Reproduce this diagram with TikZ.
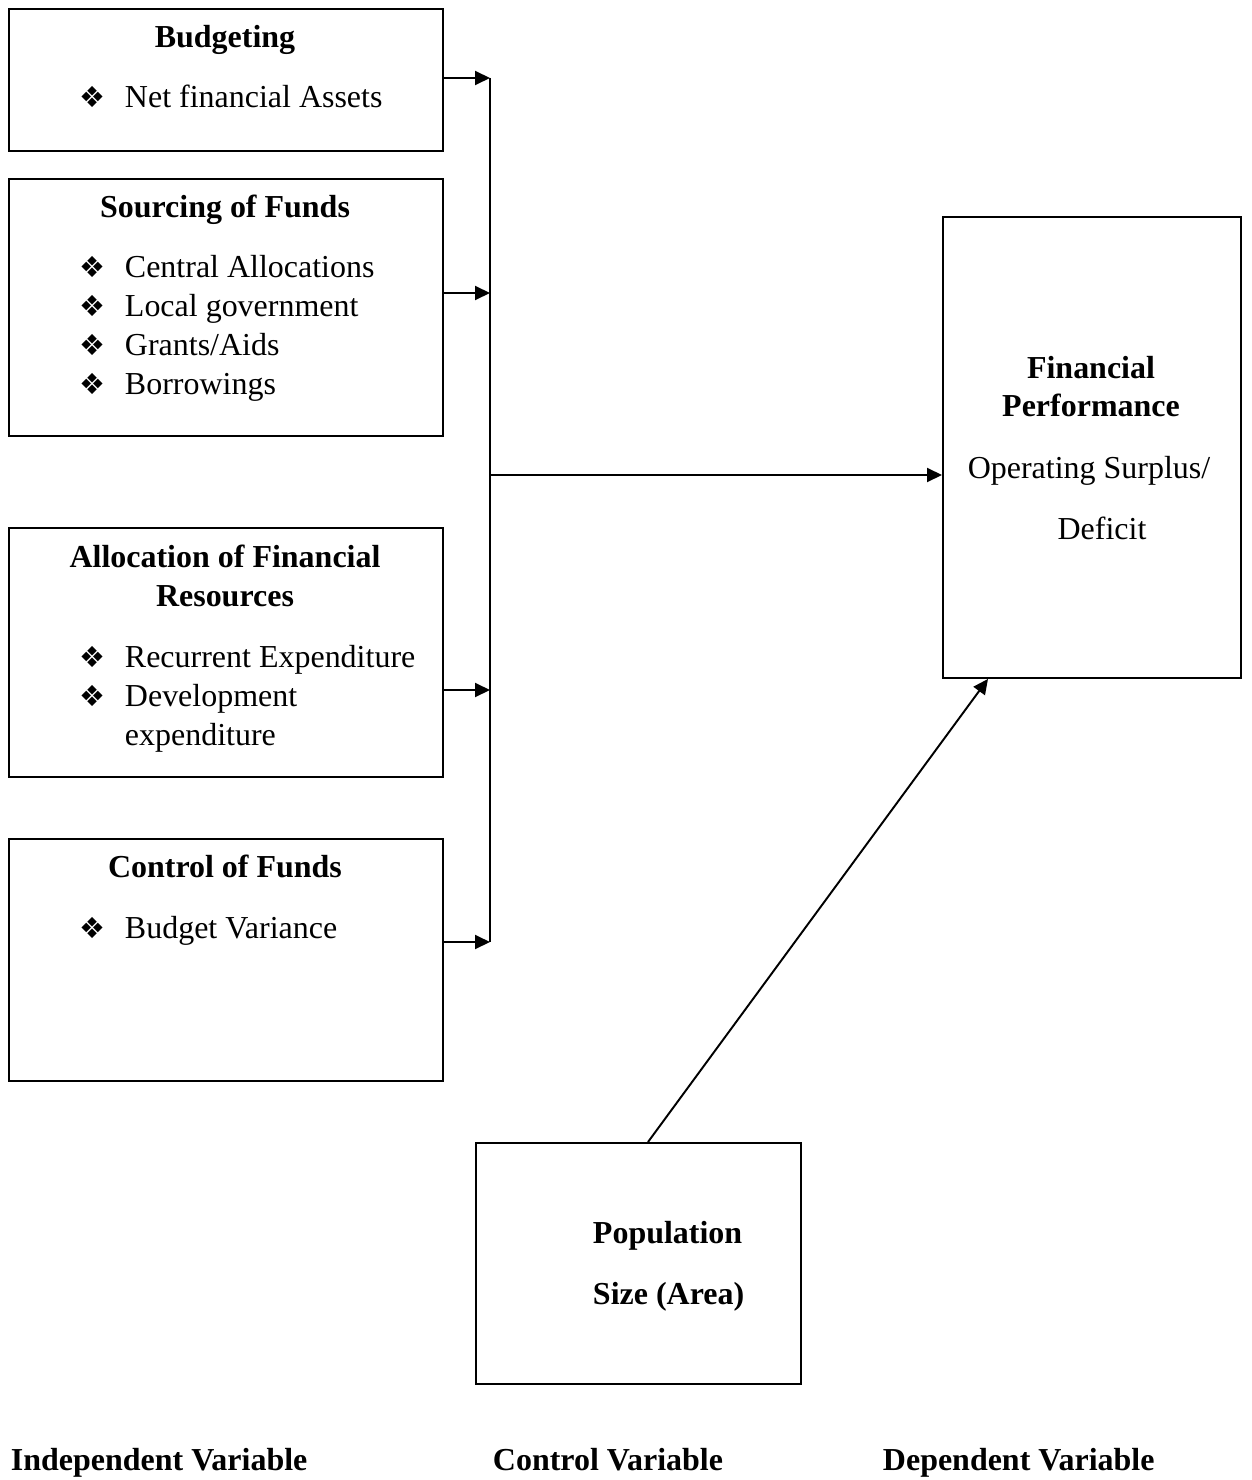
\documentclass[tikz,border=0pt]{standalone}
\usepackage{fontspec}
\setmainfont{Liberation Serif}
\newfontfamily\symfont{DejaVu Sans}
\usetikzlibrary{arrows.meta}
\newcommand{\diam}{{\symfont\char"2756}}

\begin{document}
\begin{tikzpicture}[x=0.02cm, y=-0.02cm, line width=1.1pt,
  font=\fontsize{18.2}{22}\selectfont, inner sep=0pt,
  box/.style={draw, rectangle, anchor=north west, inner sep=0pt},
  head/.style={font=\fontsize{18.2}{22}\selectfont\bfseries, anchor=base},
  item/.style={anchor=base west},
  bul/.style={anchor=base, font=\fontsize{16.5}{20}\selectfont},
  tip/.style={-{Triangle[length=0.3cm,width=0.28cm]}}]
\useasboundingbox (0,0) rectangle (1251,1480);

% boxes
\node[box, minimum width=434*0.02cm, minimum height=142*0.02cm] (bud) at (8,8) {};
\node[box, minimum width=434*0.02cm, minimum height=257*0.02cm] (src) at (8,178) {};
\node[box, minimum width=434*0.02cm, minimum height=249*0.02cm] (alc) at (8,527) {};
\node[box, minimum width=434*0.02cm, minimum height=242*0.02cm] (ctl) at (8,838) {};
\node[box, minimum width=298*0.02cm, minimum height=461*0.02cm] (perf) at (942,216) {};
\node[box, minimum width=325*0.02cm, minimum height=241*0.02cm] (pop) at (475,1142) {};

% Budgeting
\node[head] (budh) at (225,48) {Budgeting};
\node[bul] (budb1) at (92,108) {\diam};
\node[item] (budi1) at (124,108) {Net financial Assets};

% Sourcing of Funds
\node[head] (srch) at (225,217) {Sourcing of Funds};
\node[bul] (srcb1) at (92,277) {\diam};
\node[item] (srci1) at (124,277) {Central Allocations};
\node[bul] (srcb2) at (92,316) {\diam};
\node[item] (srci2) at (124,316) {Local government};
\node[bul] (srcb3) at (92,355) {\diam};
\node[item] (srci3) at (124,355) {Grants/Aids};
\node[bul] (srcb4) at (92,394) {\diam};
\node[item] (srci4) at (124,394) {Borrowings};

% Allocation
\node[head] (alch1) at (225,567) {Allocation of Financial};
\node[head] (alch2) at (225,606) {Resources};
\node[bul] (alcb1) at (92,667) {\diam};
\node[item] (alci1) at (124,667) {Recurrent Expenditure};
\node[bul] (alcb2) at (92,706) {\diam};
\node[item] (alci2) at (124,706) {Development};
\node[item] (alci3) at (124,745) {expenditure};

% Control of Funds
\node[head] (ctlh) at (225,877) {Control of Funds};
\node[bul] (ctlb1) at (92,938) {\diam};
\node[item] (ctli1) at (124,938) {Budget Variance};

% Financial Performance
\node[head] (perfh1) at (1091,378) {Financial};
\node[head] (perfh2) at (1091,416) {Performance};
\node[anchor=base] (perft1) at (1089,478) {Operating Surplus/};
\node[anchor=base] (perft2) at (1102,539) {Deficit};

% Population
\node[head, anchor=base west] (poph1) at (592,1243) {Population};
\node[head, anchor=base west] (poph2) at (592,1304) {Size (Area)};

% bottom labels
\node[head, anchor=base west] (indep) at (10,1470) {Independent Variable};
\node[head, anchor=base west] (contv) at (492,1470) {Control Variable};
\node[head, anchor=base west] (depv) at (882,1470) {Dependent Variable};

% connectors
\coordinate (j1) at (490,78);
\coordinate (j2) at (490,293);
\coordinate (j3) at (490,690);
\coordinate (j4) at (490,942);
\coordinate (jm) at (490,475);
\draw (j1) -- (j4);
\draw[tip] (bud.east |- j1) -- (j1);
\draw[tip] (src.east |- j2) -- (j2);
\draw[tip] (alc.east |- j3) -- (j3);
\draw[tip] (ctl.east |- j4) -- (j4);
\draw[tip] (jm) -- (perf.west |- jm);
\draw[tip] (pop.north -| 648,0) -- (perf.south -| 988,0);
\end{tikzpicture}
\end{document}
